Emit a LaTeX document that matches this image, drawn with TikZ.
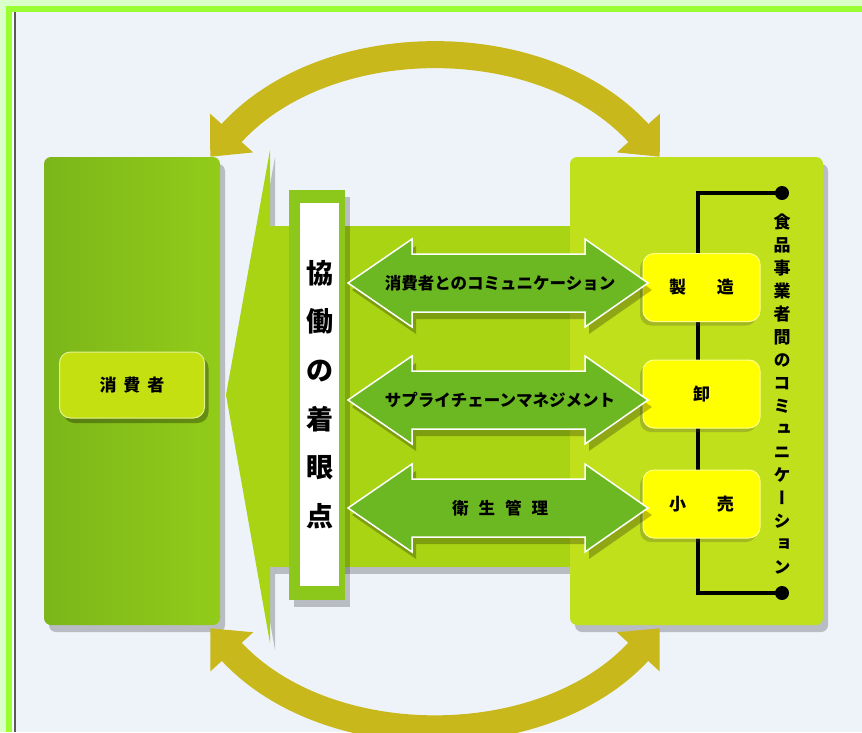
\documentclass[tikz,border=0pt]{standalone}
\usepackage{fontspec}
\newfontfamily\jp{Noto Sans CJK JP}
\newfontfamily\jpv{Noto Sans CJK JP}[RawFeature=+vert]
\usetikzlibrary{arrows.meta,shadows}
\definecolor{bgc}{HTML}{EEF3FA}
\definecolor{lightg}{HTML}{DAFFC8}
\definecolor{brightg}{HTML}{99FF33}
\definecolor{lboxc}{HTML}{86C61C}
\definecolor{consc}{HTML}{C4E010}
\definecolor{wedgec}{HTML}{A8D414}
\definecolor{barc}{HTML}{8CC81C}
\definecolor{rboxc}{HTML}{BFE01B}
\definecolor{arrc}{HTML}{6CB823}
\definecolor{arcc}{HTML}{C9B81B}
\definecolor{yel}{HTML}{FFFF00}
\tikzset{
  shad/.style={drop shadow={shadow xshift=5pt,shadow yshift=-7pt,opacity=0.22,fill=black}},
  bigbox/.style={rounded corners=7pt,inner sep=0pt,shad},
  consbox/.style={fill=consc,draw=consc!45!white,line width=1pt,rounded corners=11pt,
    minimum width=145,minimum height=66,font=\jp\bfseries\fontsize{17}{17}\selectfont,
    drop shadow={shadow xshift=4pt,shadow yshift=-5pt,opacity=0.3,fill=black}},
  ybox/.style={fill=yel,draw=yel!45!white,line width=1pt,rounded corners=11pt,
    minimum width=117,minimum height=68,font=\jp\bfseries\fontsize{17}{17}\selectfont,
    drop shadow={shadow xshift=-3pt,shadow yshift=-4pt,opacity=0.25,fill=black!60!olive}},
  dblarrow/.style={fill=arrc,draw=white,line width=1.5pt,line join=miter,
    drop shadow={shadow xshift=4pt,shadow yshift=-7pt,opacity=0.25,fill=black}},
  lab/.style={font=\jp\bfseries\fontsize{16.5}{16.5}\selectfont,inner sep=0pt},
  arcarrow/.style={draw=arcc,line width=27pt,
    {Triangle[length=32pt,width=56pt]}-{Triangle[length=32pt,width=56pt]}},
  blk/.style={line width=3.5pt,draw=black}
}
\begin{document}
\begin{tikzpicture}[x=1pt,y=-1pt]
\clip (0,0) rectangle (862,732);
% frame
\fill[lightg] (0,0) rectangle (862,732);
\fill[brightg] (6,6) rectangle (862,732);
\fill[white] (12,12) rectangle (862,732);
\fill[black!65] (13.5,12) rectangle (15.5,732);
\fill[bgc] (15.5,12) rectangle (862,732);
% left box
\node[bigbox,left color=lboxc!92!black,right color=lboxc!90!yellow,minimum width=176,minimum height=468] (lbox) at (132,391) {};
\node[consbox] (cons) at (132,385) {消\hspace{7pt}費\hspace{7pt}者};
% wedge and band
\fill[wedgec,shad] (270,150) -- (226,395) -- (270,643) -- cycle;
\node[fill=wedgec,inner sep=0pt,minimum width=305,minimum height=341,shad] (band) at (422.5,396.5) {};
\node[fill=barc,inner sep=0pt,minimum width=56,minimum height=410,shad] (bar) at (317,395) {};
\node[fill=white,inner sep=0pt,minimum width=39,minimum height=383,align=center,
  font=\jp\bfseries\fontsize{27}{48.6}\selectfont] (focus) at (319.5,394.5) {協\\働\\の\\着\\眼\\点};
% right box
\node[bigbox,fill=rboxc,minimum width=253,minimum height=468] (rbox) at (696.5,391) {};
\coordinate (ltop) at (782,193);
\coordinate (lbot) at (782,593);
\draw[blk] (ltop) -- (698,193) -- (698,593) -- (lbot);
\fill (ltop) circle (7);
\fill (lbot) circle (7);
\node[font=\jpv\bfseries\fontsize{17}{23}\selectfont,align=center,inner sep=0pt] (comm) at (782,394.5)
  {食\\品\\事\\業\\者\\間\\の\\コ\\ミ\\ュ\\ニ\\ケ\\ー\\シ\\ョ\\ン};
\node[ybox] (maker) at (701.5,287.5) {製\hspace{31pt}造};
\node[ybox] (whole) at (701.5,394) {卸};
\node[ybox] (retail) at (701.5,504) {小\hspace{31pt}売};
% double arrows
\foreach \c/\n/\t in {283/a1/{消費者とのコミュニケーション},400/a2/{サプライチェーンマネジメント},508/a3/{衛\hspace{10pt}生\hspace{10pt}管\hspace{10pt}理}}{
  \fill[dblarrow] (348,\c) -- (412,{\c-44}) -- (412,{\c-29}) -- (585,{\c-29}) -- (585,{\c-44})
    -- (648,\c) -- (585,{\c+44}) -- (585,{\c+29}) -- (412,{\c+29}) -- (412,{\c+44}) -- cycle;
  \node[lab] (\n) at (500,\c) {\t};
}
% curved arrows
\coordinate (lt) at ([xshift=-10pt]lbox.north east);
\coordinate (rt) at ([xshift=90pt]rbox.north west);
\coordinate (lb) at ([xshift=-10pt,yshift=-3pt]lbox.south east);
\coordinate (rb) at ([xshift=90pt,yshift=-3pt]rbox.south west);
\draw[arcarrow] (lt) .. controls (326,28) and (544,28) .. (rt);
\draw[arcarrow] (lb) .. controls (326,755) and (544,755) .. (rb);
\end{tikzpicture}
\end{document}
